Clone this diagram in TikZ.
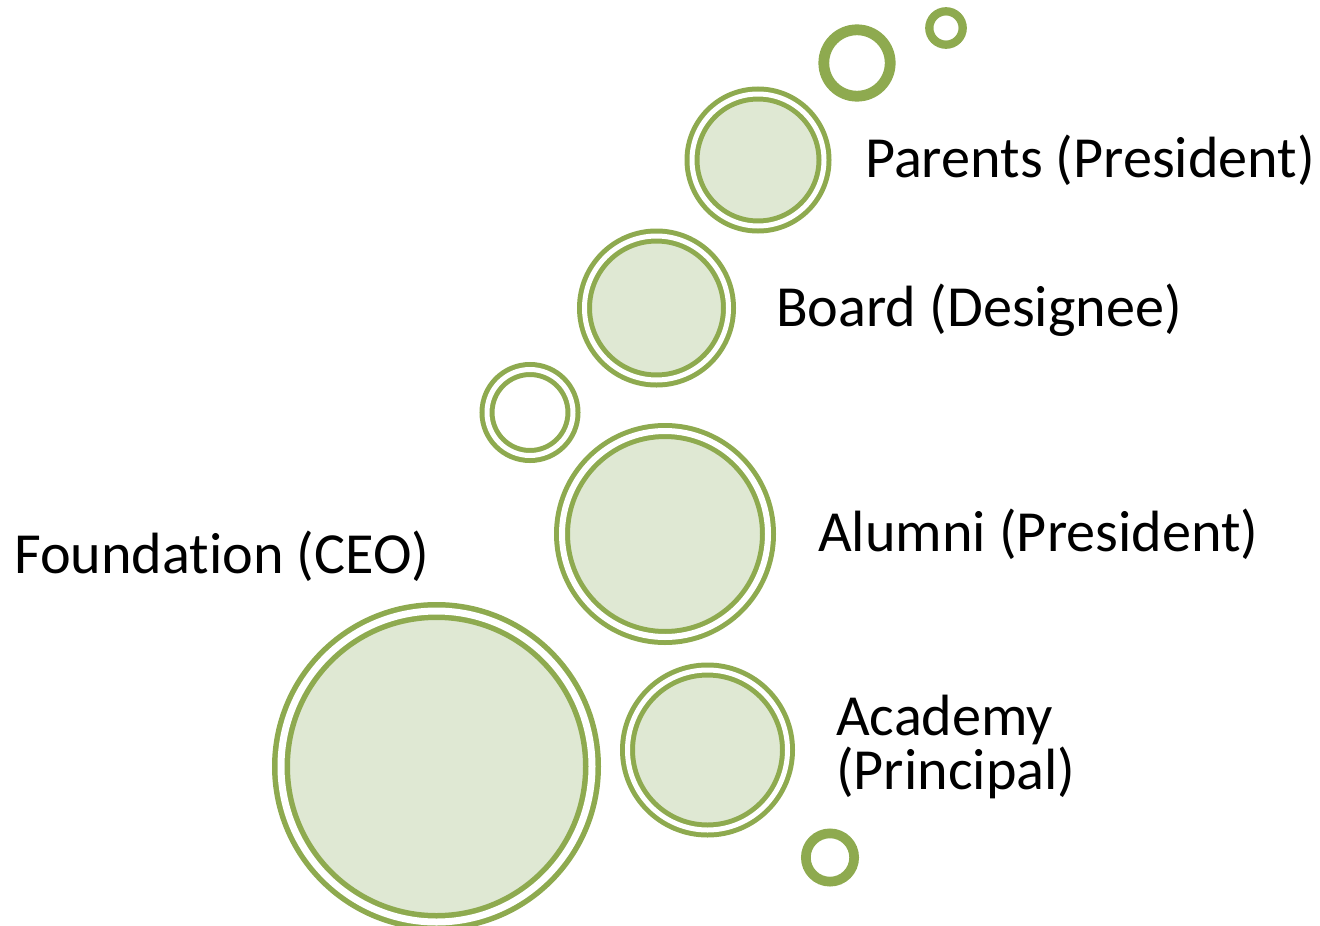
\documentclass[tikz,border=0pt]{standalone}
\usepackage{fontspec}
\setmainfont{Carlito}[Ligatures=NoCommon]
\definecolor{leaf}{HTML}{8EAA4F}
\definecolor{leaflight}{HTML}{DFE8D3}

\tikzset{
    bubble/.style={circle, inner sep=0pt, minimum size=#1, draw=leaf,
        double=white, line width=5pt, double distance=5pt, fill=leaflight},
    hollow/.style={bubble=#1, fill=none},
    hoop/.style={circle, inner sep=0pt, draw=leaf, line width=#1},
    caption/.style={anchor=base west, inner sep=0pt, align=left,
        font=\fontsize{58.2}{54}\selectfont}
}

\begin{document}
\begin{tikzpicture}[x=1pt, y=-1pt]
        \useasboundingbox (0,0) rectangle (1320,926);

        % rings without text
        \node (dotA) [hoop=8.3pt, minimum size=33.4pt] at (946,28) {};
        \node (dotB) [hoop=10.8pt, minimum size=66.4pt] at (857,63) {};
        \node (dotC) [hoop=9.7pt, minimum size=48.3pt] at (830,857.5) {};
        \node (ring) [hollow=86pt] at (530,412.5) {};

        % members
        \node (parents) [bubble=132pt] at (758,160) {};
        \node (board) [bubble=144pt] at (656.5,308) {};
        \node (alumni) [bubble=206pt, double distance=6pt] at (665,534) {};
        \node (academy) [bubble=160pt] at (707.5,750) {};
        \node (foundation) [bubble=311pt, line width=5.5pt, double distance=7pt] at (436.5,766.5) {};

        \node (parentsText) [caption] at (865,177) {Parents (President)};
        \node (boardText) [caption] at (776,326) {Board (Designee)};
        \node (alumniText) [caption] at (818,551) {Alumni (President)};
        \node (academyText) [caption] at (836,789) {Academy\\(Principal)};
        \node (foundationText) [caption] at (14,573) {Foundation (CEO)};
    \end{tikzpicture}
\end{document}
